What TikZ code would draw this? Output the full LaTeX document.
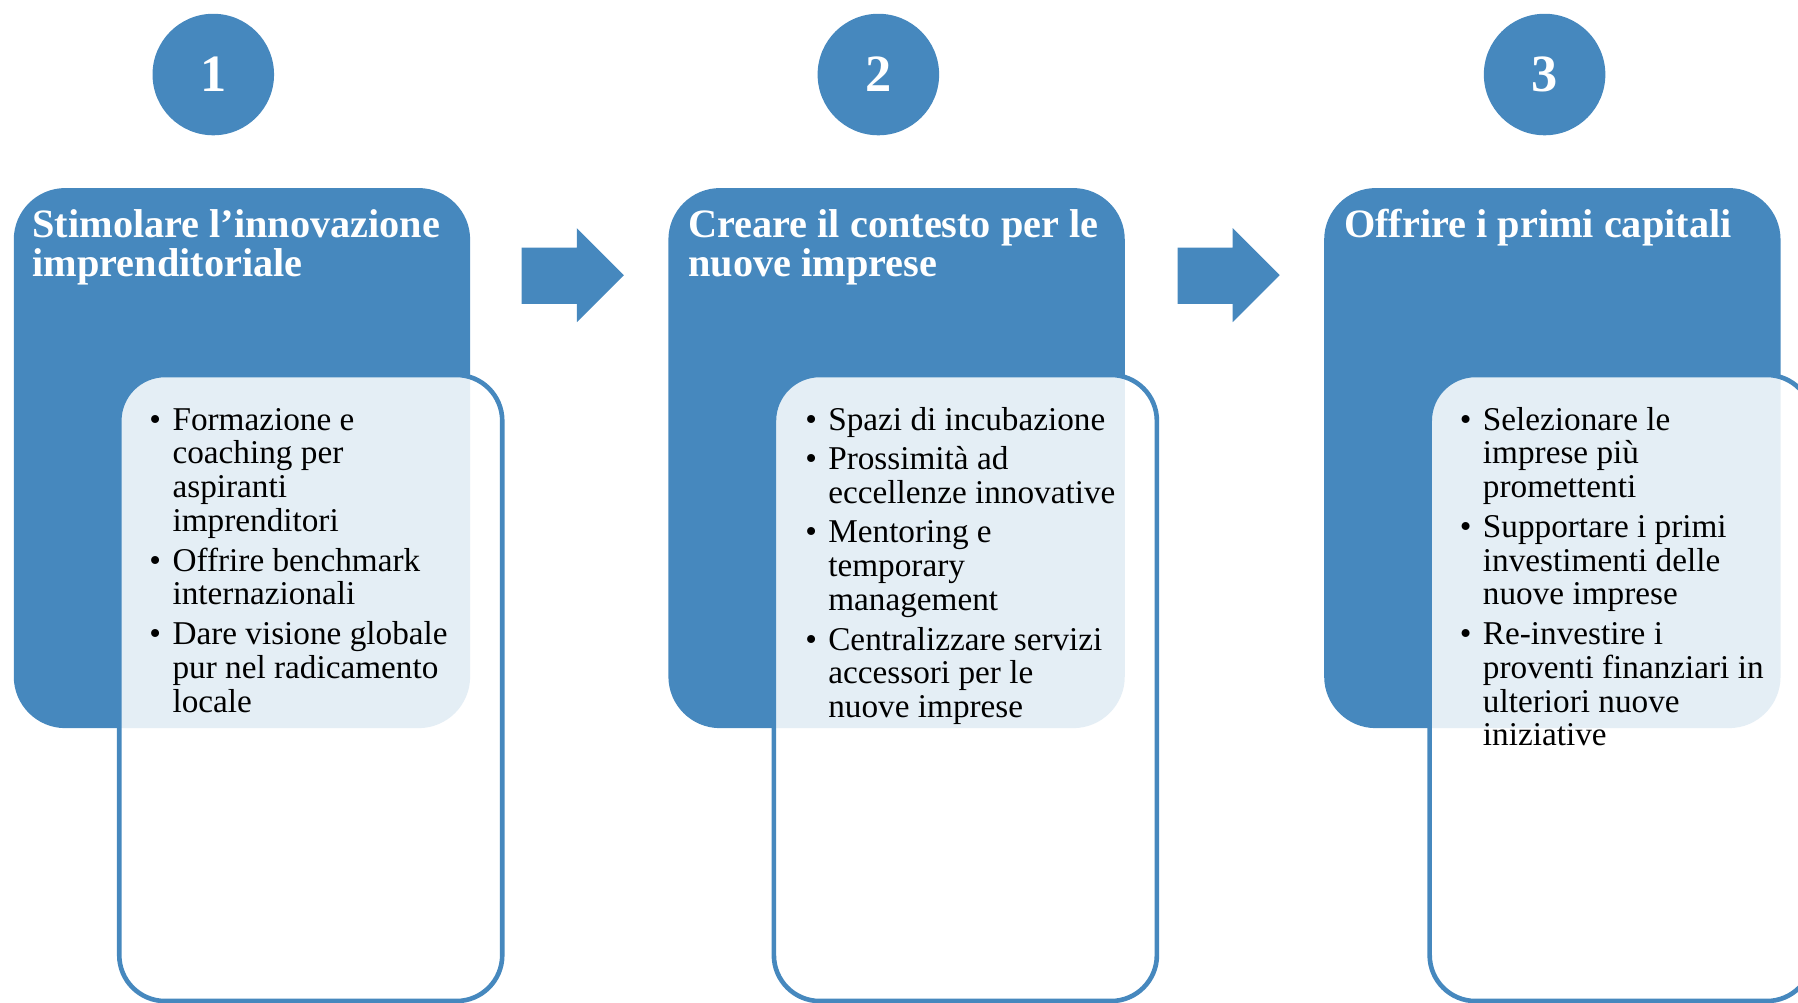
\documentclass[tikz,border=0pt]{standalone}
\usepackage{fontspec}
\setmainfont{Liberation Serif}
\usetikzlibrary{positioning}

\definecolor{accentblue}{RGB}{70,136,190}

\tikzset
  {
    bluebox/.style=    {fill=accentblue, rounded corners=0.9cm},
    whitebox/.style=   {draw=accentblue, line width=2.3pt, fill=white, fill opacity=0.86, rounded corners=0.8cm},
    numdisc/.style=    {circle, fill=accentblue, minimum size=2.12cm, inner sep=0pt, text=white, font=\fontsize{26}{26}\selectfont\bfseries},
    headtext/.style=   {anchor=base west, inner sep=0pt, text=white, font=\fontsize{20}{19.3}\selectfont\bfseries},
    listtext/.style=   {anchor=base west, inner sep=0pt, font=\fontsize{16.5}{16.8}\selectfont},
    blockarrow/.style= {fill=accentblue}
  }

\begin{document}
\begin{tikzpicture}[x=0.02cm, y=-0.02cm]

\useasboundingbox (0,0) rectangle (1568,874);
\clip (0,0) rectangle (1568,874);

% circles
\foreach \n/\x in {1/186,2/766,3/1347}
\node[numdisc] (num\n) at (\x,65) {\n};

% arrows
\fill[blockarrow] (455,216)--(503,216)--(503,199)--(544,240)--(503,281)--(503,265)--(455,265)--cycle;
\fill[blockarrow] (1027,216)--(1075,216)--(1075,199)--(1116,240)--(1075,281)--(1075,265)--(1027,265)--cycle;


\begin{scope}[xshift=0cm, yshift=0cm ]

\fill[bluebox] (12,164) rectangle (410,635);
\filldraw[whitebox] (104,327) rectangle (438,873);

\node[headtext] (head1) at (28,207)
{\begin{tabular}[t]{@{}l@{}}Stimolare l’innovazione\\ imprenditoriale\end{tabular}};

\node[listtext] (items1) at (130,375)
{\begin{tabular}[t]{@{}l@{\hspace{0.2cm}}l@{}}
\textbullet & Formazione e\\
 & coaching per\\
 & aspiranti\\
 & imprenditori\\[2.8pt]
\textbullet & Offrire benchmark\\
 & internazionali\\[2.8pt]
\textbullet & Dare visione globale\\
 & pur nel radicamento\\
 & locale
\end{tabular}};

\end{scope}


\begin{scope}[xshift=11.42cm, yshift=0cm ]

\fill[bluebox] (12,164) rectangle (410,635);
\filldraw[whitebox] (104,327) rectangle (438,873);

\node[headtext] (head2) at (29,207)
{\begin{tabular}[t]{@{}l@{}}Creare il contesto per le\\ nuove imprese\end{tabular}};

\node[listtext] (items2) at (131,375)
{\begin{tabular}[t]{@{}l@{\hspace{0.2cm}}l@{}}
\textbullet & Spazi di incubazione\\[2.8pt]
\textbullet & Prossimità ad\\
 & eccellenze innovative\\[2.8pt]
\textbullet & Mentoring e\\
 & temporary\\
 & management\\[2.8pt]
\textbullet & Centralizzare servizi\\
 & accessori per le\\
 & nuove imprese
\end{tabular}};

\end{scope}


\begin{scope}[xshift=22.86cm, yshift=0cm ]

\fill[bluebox] (12,164) rectangle (410,635);
\filldraw[whitebox] (104,327) rectangle (438,873);

\node[headtext] (head3) at (29,207)
{Offrire i primi capitali};

\node[listtext] (items3) at (130,375)
{\begin{tabular}[t]{@{}l@{\hspace{0.2cm}}l@{}}
\textbullet & Selezionare le\\
 & imprese più\\
 & promettenti\\[2.8pt]
\textbullet & Supportare i primi\\
 & investimenti delle\\
 & nuove imprese\\[2.8pt]
\textbullet & Re-investire i\\
 & proventi finanziari in\\
 & ulteriori nuove\\
 & iniziative
\end{tabular}};

\end{scope}

\end{tikzpicture}
\end{document}
